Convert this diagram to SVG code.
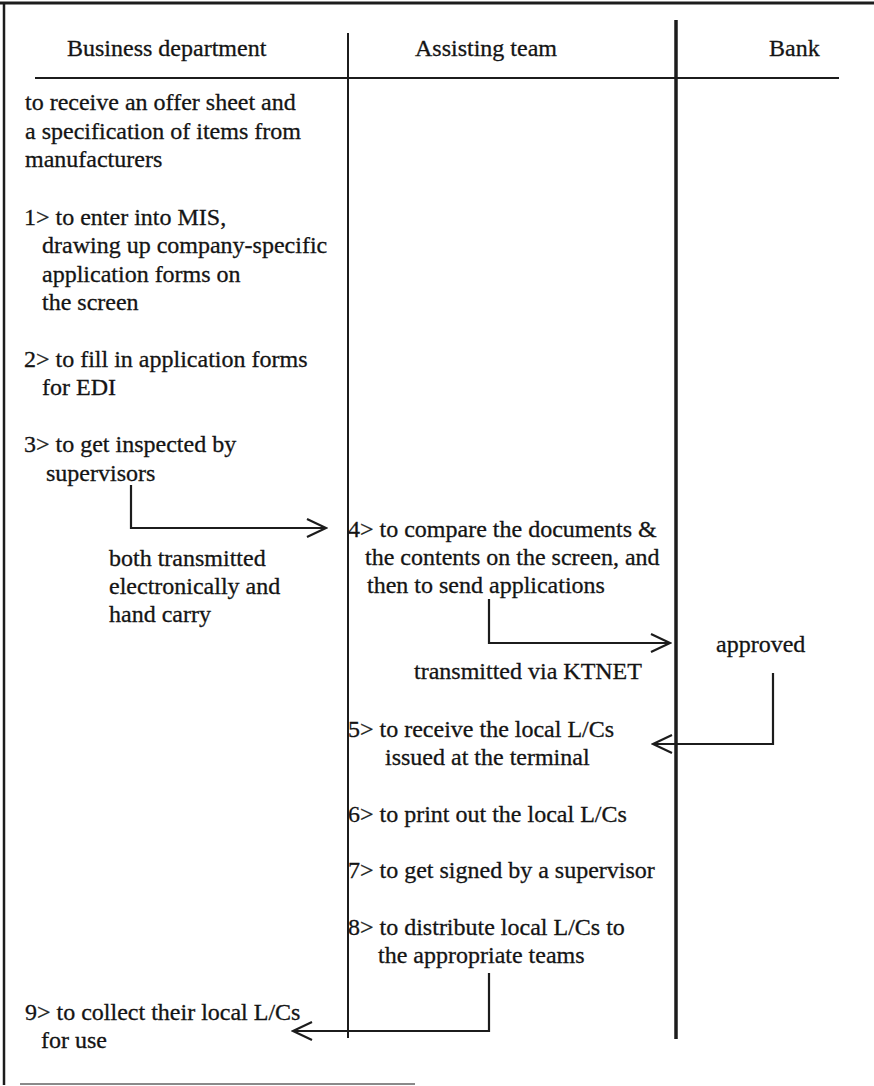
<svg xmlns="http://www.w3.org/2000/svg" width="874" height="1086" viewBox="0 0 874 1086">
  <style>
    text { font-family: "Liberation Serif", "Times New Roman", serif; font-size: 24px; fill: #141414; stroke: #141414; stroke-width: 0.3; }
    .rule { stroke: #1c1c1c; fill: none; }
    .flow { stroke: #1c1c1c; stroke-width: 2.2; fill: none; marker-end: url(#chevron); }
  </style>
  <defs>
    <marker id="chevron" viewBox="-21 -11 23 22" markerWidth="23" markerHeight="22" refX="0" refY="0" orient="auto" markerUnits="userSpaceOnUse">
      <path d="M-19,-9 L0,0 L-19,9" fill="none" stroke="#1c1c1c" stroke-width="2.2"/>
    </marker>
  </defs>

  <rect width="874" height="1086" fill="#ffffff"/>

  <!-- frame and swimlane rules -->
  <g id="frame">
    <line class="rule" x1="0" y1="3" x2="874" y2="3" stroke-width="3"/>
    <line class="rule" x1="4" y1="2" x2="4" y2="1085" stroke-width="2.5"/>
    <line x1="20" y1="1084" x2="415" y2="1084" stroke="#8a8a8a" stroke-width="2"/>
    <line class="rule" x1="35" y1="78" x2="839" y2="78" stroke-width="2"/>
    <line class="rule" x1="348" y1="33" x2="348" y2="1038" stroke-width="2"/>
    <line class="rule" x1="676" y1="20" x2="676" y2="1039" stroke-width="3.5"/>
  </g>

  <!-- lane headings -->
  <g id="lane-business"><text x="67" y="56">Business department</text></g>
  <g id="lane-assisting"><text x="415" y="56">Assisting team</text></g>
  <g id="lane-bank"><text x="769" y="56">Bank</text></g>

  <!-- business department steps -->
  <g id="step-0">
    <text x="25" y="110">to receive an offer sheet and</text>
    <text x="25" y="139">a specification of items from</text>
    <text x="25" y="167">manufacturers</text>
  </g>
  <g id="step-1">
    <text x="24" y="225">1&gt; to enter into MIS,</text>
    <text x="42" y="253">drawing up company-specific</text>
    <text x="42" y="282">application forms on</text>
    <text x="42" y="310">the screen</text>
  </g>
  <g id="step-2">
    <text x="24" y="367">2&gt; to fill in application forms</text>
    <text x="42" y="395">for EDI</text>
  </g>
  <g id="step-3">
    <text x="24" y="452">3&gt; to get inspected by</text>
    <text x="46" y="481">supervisors</text>
  </g>
  <g id="label-hand-carry">
    <text x="109" y="566">both transmitted</text>
    <text x="109" y="594">electronically and</text>
    <text x="109" y="622">hand carry</text>
  </g>
  <g id="step-9">
    <text x="25" y="1020">9&gt; to collect their local L/Cs</text>
    <text x="41" y="1048">for use</text>
  </g>

  <!-- assisting team steps -->
  <g id="step-4">
    <text x="348" y="537">4&gt; to compare the documents &amp;</text>
    <text x="365" y="565">the contents on the screen, and</text>
    <text x="367" y="593">then to send applications</text>
  </g>
  <g id="label-ktnet"><text x="414" y="679">transmitted via KTNET</text></g>
  <g id="step-5">
    <text x="348" y="737">5&gt; to receive the local L/Cs</text>
    <text x="385" y="765">issued at the terminal</text>
  </g>
  <g id="step-6"><text x="348" y="822">6&gt; to print out the local L/Cs</text></g>
  <g id="step-7"><text x="348" y="878">7&gt; to get signed by a supervisor</text></g>
  <g id="step-8">
    <text x="348" y="935">8&gt; to distribute local L/Cs to</text>
    <text x="378" y="963">the appropriate teams</text>
  </g>

  <!-- bank -->
  <g id="bank-approved"><text x="716" y="652">approved</text></g>

  <!-- connectors -->
  <g id="connectors">
    <polyline class="flow" points="131,485 131,528 326,528"/>
    <polyline class="flow" points="489,599 489,643 670,643"/>
    <polyline class="flow" points="773,673 773,744 653,744"/>
    <polyline class="flow" points="489,973 489,1031 293,1031"/>
  </g>
</svg>
